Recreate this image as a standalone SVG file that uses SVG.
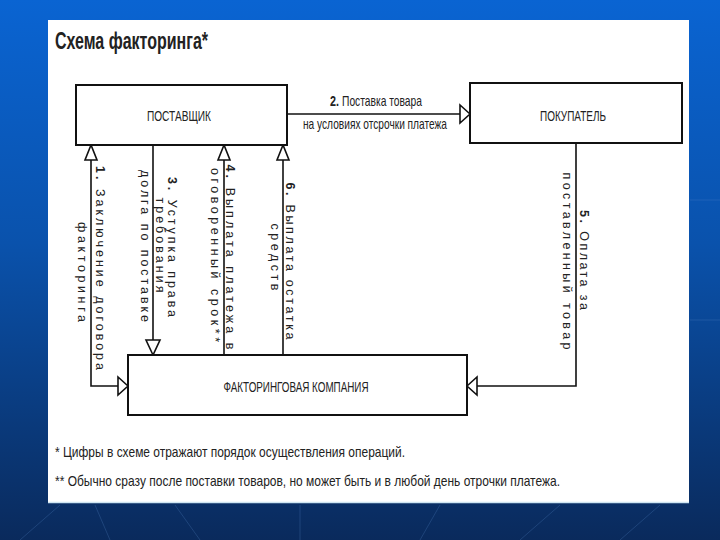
<svg xmlns="http://www.w3.org/2000/svg" width="720" height="540" viewBox="0 0 720 540">
<defs>
<linearGradient id="bg" x1="0" y1="0" x2="0" y2="1">
<stop offset="0" stop-color="#0a64d2"/>
<stop offset="0.45" stop-color="#0a52ac"/>
<stop offset="1" stop-color="#0a2a5c"/>
</linearGradient>
<style>
.box{fill:#fff;stroke:#111;stroke-width:2}
.ln{fill:none;stroke:#111;stroke-width:1.6}
.ah{fill:#fff;stroke:#111;stroke-width:1.6;stroke-linejoin:miter}
.nt{font-family:"Liberation Sans",Arial,sans-serif;font-size:15px;fill:#222;text-anchor:middle}
.vt{font-family:"Liberation Sans",Arial,sans-serif;font-size:12.5px;fill:#222;text-anchor:middle}
.ht{font-family:"Liberation Sans",Arial,sans-serif;font-size:15px;fill:#222}
.fn{font-family:"Liberation Sans",Arial,sans-serif;font-size:15px;fill:#222}
.deco{stroke:#5a8ccc;stroke-width:1;opacity:0.25}
</style>
</defs>
<rect x="0" y="0" width="720" height="540" fill="url(#bg)"/>
<g class="deco">
<line x1="20" y1="540" x2="60" y2="505"/>
<line x1="110" y1="540" x2="95" y2="505"/>
<line x1="200" y1="540" x2="175" y2="505"/>
<line x1="300" y1="540" x2="300" y2="505"/>
<line x1="420" y1="540" x2="440" y2="505"/>
<line x1="520" y1="540" x2="560" y2="505"/>
<line x1="620" y1="540" x2="660" y2="505"/>
<line x1="690" y1="200" x2="720" y2="200"/>
<line x1="690" y1="320" x2="720" y2="320"/>
</g>
<rect x="48" y="20" width="641" height="483" fill="#fff"/>
<line x1="48" y1="502.5" x2="689" y2="502.5" stroke="#cfe6f2" stroke-width="1.5"/>
<text x="55" y="49" font-family="Liberation Sans,Arial,sans-serif" font-size="24" font-weight="bold" fill="#222" textLength="153" lengthAdjust="spacingAndGlyphs">Схема факторинга*</text>

<g id="connectors">
<polyline class="ln" points="91,145 91,386 128,386"/>
<line class="ln" x1="287" y1="114" x2="470" y2="114"/>
<line class="ln" x1="153" y1="145" x2="153" y2="355"/>
<line class="ln" x1="224" y1="355" x2="224" y2="145"/>
<line class="ln" x1="283" y1="355" x2="283" y2="145"/>
<polyline class="ln" points="576,143 576,386 467,386"/>
<polygon class="ah" points="91,145 85,160 97,160"/>
<polygon class="ah" points="128,386 118,377 118,395"/>
<polygon class="ah" points="470,114 460,105 460,123"/>
<polygon class="ah" points="153,355 146,340 160,340"/>
<polygon class="ah" points="224,145 218,160 230,160"/>
<polygon class="ah" points="283,145 277,160 289,160"/>
<polygon class="ah" points="467,386 477,377 477,395"/>
<text class="ht" x="330" y="106" font-weight="bold" textLength="9" lengthAdjust="spacingAndGlyphs">2.</text>
<text class="ht" x="342" y="106" textLength="80" lengthAdjust="spacingAndGlyphs">Поставка товара</text>
<text class="ht" x="375" y="129" text-anchor="middle" textLength="144" lengthAdjust="spacingAndGlyphs">на условиях отсрочки платежа</text>
<g transform="translate(96,268) rotate(90)"><text class="vt" x="0" y="0" textLength="204" lengthAdjust="spacing"><tspan font-weight="bold">1.</tspan> Заключение договора</text></g>
<g transform="translate(78,272) rotate(90)"><text class="vt" x="0" y="0" textLength="100" lengthAdjust="spacing">факторинга</text></g>
<g transform="translate(168,247) rotate(90)"><text class="vt" x="0" y="0" textLength="140" lengthAdjust="spacing"><tspan font-weight="bold">3.</tspan> Уступка права</text></g>
<g transform="translate(156,245) rotate(90)"><text class="vt" x="0" y="0" textLength="95" lengthAdjust="spacing">требования</text></g>
<g transform="translate(141,246) rotate(90)"><text class="vt" x="0" y="0" textLength="152" lengthAdjust="spacing">долга по поставке</text></g>
<g transform="translate(226,257) rotate(90)"><text class="vt" x="0" y="0" textLength="185" lengthAdjust="spacing"><tspan font-weight="bold">4.</tspan> Выплата платежа в</text></g>
<g transform="translate(211,255) rotate(90)"><text class="vt" x="0" y="0" textLength="174" lengthAdjust="spacing">оговоренный срок**</text></g>
<g transform="translate(286,261) rotate(90)"><text class="vt" x="0" y="0" textLength="157" lengthAdjust="spacing"><tspan font-weight="bold">6.</tspan> Выплата остатка</text></g>
<g transform="translate(271,257) rotate(90)"><text class="vt" x="0" y="0" textLength="67" lengthAdjust="spacing">средств</text></g>
<g transform="translate(580,260) rotate(90)"><text class="vt" x="0" y="0" textLength="100" lengthAdjust="spacing"><tspan font-weight="bold">5.</tspan> Оплата за</text></g>
<g transform="translate(563,261) rotate(90)"><text class="vt" x="0" y="0" textLength="177" lengthAdjust="spacing">поставленный товар</text></g>
</g>

<g id="supplier">
<rect class="box" x="76" y="85" width="211" height="60"/>
<text class="nt" x="179" y="121" textLength="64" lengthAdjust="spacingAndGlyphs">ПОСТАВЩИК</text>
</g>
<g id="buyer">
<rect class="box" x="470" y="83" width="212" height="60"/>
<text class="nt" x="573" y="121" textLength="66" lengthAdjust="spacingAndGlyphs">ПОКУПАТЕЛЬ</text>
</g>
<g id="factor">
<rect class="box" x="128" y="355" width="339" height="60"/>
<text class="nt" x="296" y="392" textLength="145" lengthAdjust="spacingAndGlyphs">ФАКТОРИНГОВАЯ КОМПАНИЯ</text>
</g>

<text class="fn" x="55" y="457" textLength="350" lengthAdjust="spacingAndGlyphs">* Цифры в схеме отражают порядок осуществления операций.</text>
<text class="fn" x="55" y="486" textLength="505" lengthAdjust="spacingAndGlyphs">** Обычно сразу после поставки товаров, но может быть и в любой день отрочки платежа.</text>
</svg>
